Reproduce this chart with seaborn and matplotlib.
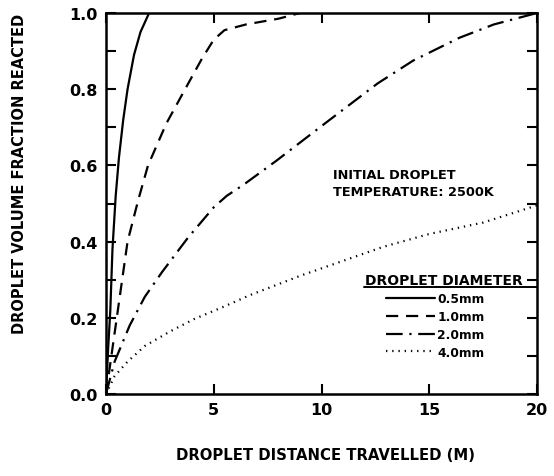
import numpy as np
import pandas as pd
import seaborn as sns
import matplotlib
matplotlib.use("Agg")
import matplotlib.pyplot as plt
from matplotlib.ticker import MultipleLocator, FuncFormatter

# ---- data ----
solid_x = [0, 0.1, 0.2, 0.3, 0.45, 0.6, 0.8, 1.0, 1.3, 1.6, 2.0]
solid_y = [0, 0.12, 0.22, 0.38, 0.52, 0.62, 0.72, 0.80, 0.89, 0.95, 1.0]

dashed_x = [0, 0.25, 0.5, 1.0, 1.5, 1.95, 2.8, 3.67, 4.45, 5.0, 5.5, 6.5, 8.0, 9.0]
dashed_y = [0, 0.1, 0.2, 0.4, 0.51, 0.6, 0.71, 0.8, 0.88, 0.93, 0.955, 0.97, 0.985, 1.0]

dashdot_x = [0, 0.4, 1.1, 1.8, 2.6, 3.2, 3.8, 4.4, 5.0, 5.6, 6.4,
             7.9, 10.25, 12.6, 14.25, 16.4, 18.0, 20]
dashdot_y = [0, 0.085, 0.18, 0.255, 0.32, 0.365, 0.41, 0.45, 0.49, 0.52, 0.55,
             0.612, 0.714, 0.815, 0.875, 0.935, 0.97, 1.0]

dotted_x = [0, 0.4, 1.0, 1.8, 3.0, 4.1, 5.5, 6.7, 9.0, 12.85, 15.0, 17.5, 20]
dotted_y = [0, 0.047, 0.085, 0.126, 0.165, 0.197, 0.23, 0.26, 0.31, 0.386, 0.42, 0.45, 0.495]

series_labels = ["0.5mm", "1.0mm", "2.0mm", "4.0mm"]
x_ticks = [0, 5, 10, 15, 20]

sns.set_style("ticks")
plt.rcParams['font.family'] = ['DejaVu Sans']
plt.rcParams['font.weight'] = 'bold'
for k in ['text.color', 'axes.labelcolor', 'xtick.color', 'ytick.color', 'axes.edgecolor']:
    plt.rcParams[k] = 'black'

W, H = 554, 477
fig = plt.figure(figsize=(W / 100, H / 100), dpi=100)
L, R, T, B = 106, 537, 14, 395
ax = fig.add_axes([L / W, 1 - B / H, (R - L) / W, (B - T) / H])

def ax_x(px):
    return (px - L) / (R - L)

def ax_y(py):
    return (B - py) / (B - T)

styles = [
    dict(linestyle='-'),
    dict(dashes=(5.5, 3.5)),
    dict(dashes=(7.5, 3, 1, 3)),
    dict(dashes=(0.6, 2.2)),
]
data = [(solid_x, solid_y), (dashed_x, dashed_y), (dashdot_x, dashdot_y), (dotted_x, dotted_y)]
for (xs, ys), lab, st in zip(data, series_labels, styles):
    df = pd.DataFrame({"x": xs, "y": ys})
    line_kw = dict(color='black', linewidth=1.6, label=lab)
    line_kw.update(st)
    sns.lineplot(data=df, x="x", y="y", ax=ax, estimator=None, sort=False, **line_kw)

ax.set_xlim(0, 20)
ax.set_ylim(0, 1.0)
ax.set_xticks(x_ticks)
ax.yaxis.set_major_locator(MultipleLocator(0.1))
ax.yaxis.set_major_formatter(FuncFormatter(
    lambda v, p: (f"{v:.1f}" if round(v * 10) % 2 == 0 else "")))
ax.tick_params(direction='in', length=7, width=1.5, top=True, right=True,
               labelsize=11.5, pad=6, colors='black')
for lab in ax.get_xticklabels() + ax.get_yticklabels():
    lab.set_fontweight('bold')
for sp in ax.spines.values():
    sp.set_linewidth(1.8)
    sp.set_color('black')
    sp.set_visible(True)

ax.set_xlabel("")
ax.set_ylabel("")
fig.text((L + R) / 2 / W + 0.008, 1 - 456 / H, "DROPLET DISTANCE TRAVELLED (M)",
         ha='center', va='center', fontsize=10.7, fontweight='bold', color='black')
fig.text(20 / W, 1 - 174 / H, "DROPLET VOLUME FRACTION REACTED",
         ha='center', va='center', rotation=90, fontsize=10.5, fontweight='bold',
         color='black')

ax.text(ax_x(333), ax_y(184), "INITIAL DROPLET\nTEMPERATURE: 2500K",
        transform=ax.transAxes, ha='left', va='center', fontsize=9.3,
        fontweight='bold', linespacing=1.35, color='black')

leg = ax.legend(loc='upper left', bbox_to_anchor=(ax_x(386), ax_y(293)),
                frameon=False, fontsize=8.8, handlelength=4.0,
                handletextpad=0.2, labelspacing=0.4, borderpad=0.0,
                borderaxespad=0.0)
for t in leg.get_texts():
    t.set_fontweight('bold')
    t.set_color('black')
# legend title, underlined
ax.text(ax_x(365), ax_y(281), "DROPLET DIAMETER", transform=ax.transAxes,
        ha='left', va='center', fontsize=10, fontweight='bold', color='black')
ax.plot([ax_x(364), 1.0], [ax_y(288)] * 2, color='black',
        linewidth=1.4, transform=ax.transAxes, clip_on=False)

fig.savefig("out.png", dpi=100)
